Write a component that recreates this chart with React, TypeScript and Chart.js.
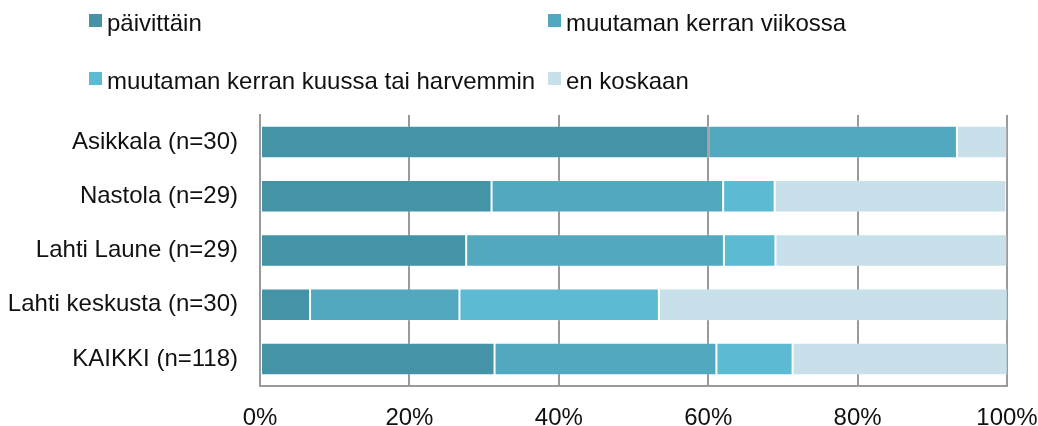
import React, { useEffect, useRef } from "react";
import { Chart, registerables } from "chart.js";

Chart.register(...registerables);

const categories = [
  "Asikkala (n=30)",
  "Nastola (n=29)",
  "Lahti Laune (n=29)",
  "Lahti keskusta (n=30)",
  "KAIKKI (n=118)",
];

const seriesNames = [
  "päivittäin",
  "muutaman kerran viikossa",
  "muutaman kerran kuussa tai harvemmin",
  "en koskaan",
];

const paivittain = [60.0, 31.0, 27.6, 6.7, 31.4];
const viikossa = [33.3, 31.0, 34.5, 20.0, 29.7];
const kuussa = [0, 6.9, 6.9, 26.7, 10.2];
const enKoskaan = [6.7, 31.0, 31.0, 46.7, 28.8];

const xTicks = [0, 20, 40, 60, 80, 100];

const colors = ["#4493A6", "#51A8BF", "#5CBAD3", "#C7E0E9"];

const FONT = "'Liberation Sans', Arial, sans-serif";

export default function App() {
  const canvasRef = useRef<HTMLCanvasElement | null>(null);

  useEffect(() => {
    document.body.style.margin = "0";
    const canvas = canvasRef.current;
    if (!canvas) return;
    const seriesData = [paivittain, viikossa, kuussa, enKoskaan];
    const chart = new Chart(canvas, {
      type: "bar",
      data: {
        labels: categories,
        datasets: seriesNames.map((name, i) => ({
          label: name,
          data: seriesData[i],
          backgroundColor: colors[i],
          borderColor: "rgba(255,255,255,0.2)",
          borderWidth: (ctx: any) => (ctx.raw === 0 ? 0 : 1),
          borderSkipped: false,
          barPercentage: 0.6,
          categoryPercentage: 1,
        })),
      },
      options: {
        indexAxis: "y",
        animation: false,
        responsive: false,
        maintainAspectRatio: false,
        layout: { padding: { top: 115, right: 31, left: 0, bottom: 0 } },
        plugins: {
          legend: { display: false },
          tooltip: { enabled: false },
        },
        scales: {
          x: {
            stacked: true,
            min: 0,
            max: 100,
            afterBuildTicks: (scale: any) => {
              scale.ticks = xTicks.map((v) => ({ value: v }));
            },
            afterFit: (scale: any) => {
              scale.height = 40;
              scale.paddingLeft = 0;
              scale.paddingRight = 0;
            },
            ticks: {
              callback: (v: any) => v + "%",
              font: { family: FONT, size: 24 },
              color: "#111",
              padding: 18,
              maxRotation: 0,
            },
            grid: {
              color: "#9a9a9a",
              lineWidth: 2,
              drawTicks: false,
            },
            border: { display: true, color: "#9a9a9a", width: 2 },
          },
          y: {
            stacked: true,
            afterFit: (scale: any) => {
              scale.width = 260;
              scale.paddingTop = 0;
              scale.paddingBottom = 0;
            },
            ticks: {
              font: { family: FONT, size: 24 },
              color: "#111",
              padding: 22,
            },
            grid: { display: false, drawTicks: false },
            border: { display: true, color: "#9a9a9a", width: 2 },
          },
        },
      },
    });
    return () => chart.destroy();
  }, []);

  const legendPos = [
    { left: 89, top: 14 },
    { left: 548, top: 14 },
    { left: 89, top: 72 },
    { left: 548, top: 72 },
  ];

  return (
    <div style={{ position: "relative", width: 1038, height: 426, background: "#fff" }}>
      <canvas ref={canvasRef} width={1038} height={426} style={{ display: "block" }} />
      {seriesNames.map((name, i) => (
        <div
          key={name}
          style={{
            position: "absolute",
            left: legendPos[i].left,
            top: legendPos[i].top,
            height: 30,
          }}
        >
          <div
            style={{
              position: "absolute",
              left: 0,
              top: 0,
              width: 13,
              height: 13,
              background: colors[i],
            }}
          />
          <span
            style={{
              position: "absolute",
              left: 18,
              top: -5,
              whiteSpace: "nowrap",
              fontFamily: FONT,
              fontSize: 24,
              lineHeight: "28px",
              color: "#111",
            }}
          >
            {name}
          </span>
        </div>
      ))}
    </div>
  );
}
